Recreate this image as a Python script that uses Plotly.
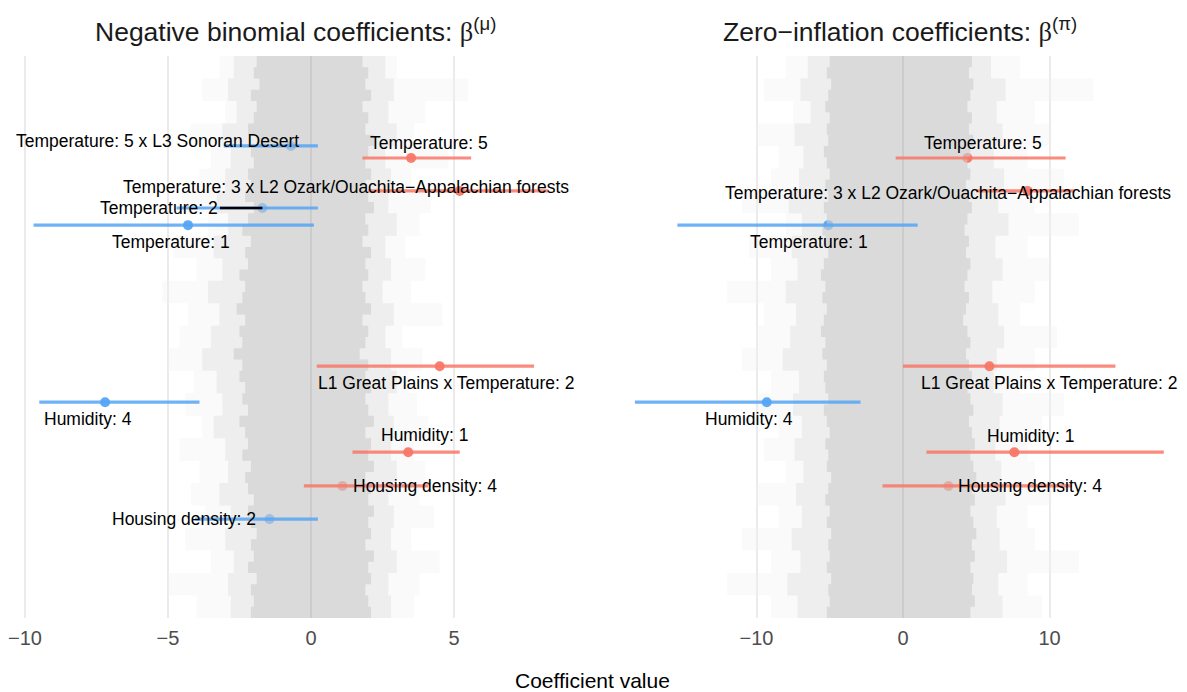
import plotly.graph_objects as go

# ---------------- data ----------------
# Highlighted coefficients, negative-binomial panel
nb_terms = ["Temperature: 5 x L3 Sonoran Desert", "Temperature: 5",
            "Temperature: 3 x L2 Ozark/Ouachita\u2212Appalachian forests",
            "Temperature: 2", "Temperature: 1", "L1 Great Plains x Temperature: 2",
            "Humidity: 4", "Humidity: 1", "Housing density: 4", "Housing density: 2"]
nb_row = [84.0, 81.85, 76.0, 72.95, 69.9, 44.8, 38.4, 29.5, 23.5, 17.6]
nb_est = [-0.7, 3.5, 5.2, -1.7, -4.3, 4.5, -7.2, 3.4, 1.1, -1.45]
nb_lo = [-3.05, 1.8, 2.0, -4.7, -9.7, 0.2, -9.5, 1.45, -0.25, -4.05]
nb_hi = [0.24, 5.6, 8.3, 0.24, 0.1, 7.8, -3.9, 5.2, 4.1, 0.24]

# Highlighted coefficients, zero-inflation panel
zi_terms = ["Temperature: 5",
            "Temperature: 3 x L2 Ozark/Ouachita\u2212Appalachian forests",
            "Temperature: 1", "L1 Great Plains x Temperature: 2",
            "Humidity: 4", "Humidity: 1", "Housing density: 4"]
zi_row = [81.85, 76.0, 69.9, 44.8, 38.4, 29.5, 23.5]
zi_est = [4.4, 8.5, -5.1, 5.9, -9.3, 7.6, 3.1]
zi_lo = [-0.5, 5.0, -15.4, 0.0, -18.3, 1.6, -1.4]
zi_hi = [11.1, 11.7, 1.0, 14.5, -2.9, 17.8, 11.5]

# Background cloud of all other coefficient intervals, by row band (top -> bottom)
fine_rows = [99, 97, 95, 93, 91, 89, 87, 85, 83, 81, 79, 77, 75, 73, 71, 69, 67, 65, 63, 61,
             59, 57, 55, 53, 51, 49, 47, 45, 43, 41, 39, 37, 35, 33, 31, 29, 27, 25, 23, 21,
             19, 17, 15, 13, 11, 9, 7, 5, 3, 1]
coarse_rows = [98, 94, 90, 86, 82, 78, 74, 70, 66, 62, 58, 54, 50, 46, 42, 38, 34, 30, 26, 22, 18, 14, 10, 6, 2]

nb_core_lo = [-1.9, -2.0, -1.8, -2.1, -1.9, -2.0, -2.2, -1.9, -2.1, -2.0,
              -2.2, -2.1, -2.3, -2.0, -2.2, -2.4, -2.1, -2.3, -2.2, -2.5,
              -2.3, -2.4, -2.6, -2.3, -2.5, -2.4, -2.7, -2.4, -2.5, -2.3,
              -2.4, -2.2, -2.5, -2.3, -2.2, -2.4, -2.1, -2.3, -2.2, -2.0,
              -2.2, -2.1, -1.9, -2.1, -2.0, -2.2, -1.9, -2.1, -2.0, -2.1]
nb_core_hi = [1.8, 2.0, 1.9, 2.1, 1.8, 2.0, 1.9, 2.2, 2.0, 1.9,
              2.1, 1.9, 2.0, 2.2, 1.9, 2.0, 1.8, 2.1, 1.9, 2.0,
              1.8, 1.9, 2.1, 1.8, 2.0, 1.9, 1.7, 2.0, 1.9, 2.1,
              1.9, 2.0, 2.2, 1.9, 2.1, 2.0, 2.2, 1.9, 2.1, 2.0,
              2.2, 2.0, 2.1, 1.9, 2.2, 2.0, 2.1, 1.9, 2.0, 2.1]
nb_mid_lo = [-2.7, -2.9, -2.6, -3.1, -2.8, -3.0, -3.3, -2.9, -3.4, -3.1, -3.6, -3.2, -3.5,
             -3.8, -3.3, -3.1, -3.4, -3.0, -2.9, -3.2, -2.8, -3.0, -2.7, -2.9, -2.8]
nb_mid_hi = [2.6, 2.9, 2.7, 3.0, 2.6, 2.8, 2.7, 3.0, 2.6, 2.8, 2.5, 2.9, 2.6,
             2.8, 3.0, 2.7, 2.9, 2.8, 3.0, 2.7, 2.9, 2.8, 3.0, 2.7, 2.8]
nb_out_lo = [-3.2, -3.8, -3.0, -4.2, -3.5, -3.9, -4.5, -3.6, -4.8, -4.0, -5.2, -4.3, -4.6,
             -5.0, -4.1, -4.4, -3.8, -4.6, -3.9, -4.2, -3.7, -4.4, -3.5, -5.0, -4.0]
nb_out_hi = [3.0, 5.5, 4.0, 3.6, 4.8, 3.5, 4.2, 3.8, 3.3, 4.0, 3.5, 4.6, 3.2,
             3.9, 3.4, 3.7, 4.1, 3.6, 4.0, 3.8, 4.3, 3.5, 4.5, 3.8, 3.6]

zi_core_lo = [-5.0, -5.2, -4.9, -5.1, -5.3, -5.0, -5.2, -5.1, -5.4, -5.2,
              -5.0, -5.3, -5.1, -5.4, -5.2, -5.5, -5.3, -5.1, -5.4, -5.6,
              -5.3, -5.5, -5.2, -5.4, -5.6, -5.3, -5.5, -5.2, -5.4, -5.3,
              -5.1, -5.4, -5.2, -5.0, -5.3, -5.1, -5.2, -4.9, -5.1, -5.3,
              -5.0, -5.2, -4.9, -5.1, -5.0, -5.2, -4.9, -5.1, -5.0, -5.2]
zi_core_hi = [4.7, 4.5, 4.8, 4.6, 4.4, 4.7, 4.5, 4.8, 4.6, 4.4,
              4.6, 4.3, 4.5, 4.7, 4.4, 4.2, 4.5, 4.3, 4.6, 4.4,
              4.2, 4.5, 4.3, 4.1, 4.4, 4.6, 4.3, 4.5, 4.7, 4.4,
              4.6, 4.8, 4.5, 4.7, 4.9, 4.6, 4.8, 5.0, 4.7, 4.9,
              4.6, 4.8, 5.0, 4.7, 4.9, 4.6, 4.8, 4.7, 4.9, 4.6]
zi_mid_lo = [-6.5, -7.0, -6.3, -7.4, -6.8, -7.1, -7.8, -6.9, -7.6, -7.2, -8.0, -7.3, -7.7,
             -8.2, -7.1, -7.5, -6.9, -7.4, -6.8, -7.3, -6.9, -7.6, -7.0, -7.9, -7.2]
zi_mid_hi = [6.0, 7.0, 6.4, 6.8, 6.2, 6.9, 6.5, 7.2, 6.3, 6.8, 6.1, 6.5, 6.9,
             6.4, 6.2, 6.8, 6.6, 6.3, 6.7, 7.0, 6.4, 6.6, 7.1, 6.5, 6.8]
zi_out_lo = [-8.0, -9.5, -7.5, -10.0, -8.5, -9.0, -11.0, -8.0, -10.5, -9.0, -12.0, -9.5, -10.0,
             -11.0, -9.0, -10.0, -8.5, -9.5, -8.0, -10.0, -8.5, -11.0, -9.0, -12.0, -9.0]
zi_out_hi = [8.0, 13.0, 9.0, 10.0, 8.5, 11.0, 9.0, 12.0, 8.5, 10.0, 9.0, 8.0, 10.5,
             9.0, 8.0, 11.0, 9.5, 8.5, 9.0, 10.0, 8.5, 9.0, 12.0, 8.5, 9.5]

nb_ticks = [-10, -5, 0, 5]
zi_ticks = [-10, 0, 10]

# ---------------- style ----------------
BLUE = "rgb(86,166,245)"
RED = "rgb(248,120,104)"
W, H = 1187, 692
FONT = "Liberation Sans, Arial, Helvetica"

# label offsets in pixels (dx right, dy down) relative to each estimate
nb_off = [(-133, -5), (18, -15), (-114, -4), (-103, 0), (-17, 17),
          (6, 17), (-17, 17), (17, -17), (83, 0), (-86, 0)]
zi_off = [(16, -15), (-80, 2), (-19, 17), (60, 17), (-18, 17), (17, -16), (82, 0)]

fig = go.Figure()


def stair_polygon(rows, lo, hi, half):
    xs, ys = [], []
    for r, a in zip(rows, lo):
        xs += [a, a]
        ys += [r + half, r - half]
    for r, b in zip(reversed(rows), reversed(hi)):
        xs += [b, b]
        ys += [r - half, r + half]
    xs.append(xs[0]); ys.append(ys[0])
    return xs, ys


def add_band(xa, ya, rows, lo, hi, half, color):
    xs, ys = stair_polygon(rows, lo, hi, half)
    fig.add_trace(go.Scatter(x=xs, y=ys, mode="lines", fill="toself",
                             fillcolor=color, line=dict(width=0),
                             hoverinfo="skip", showlegend=False, xaxis=xa, yaxis=ya))


OUT, MID, CORE = "rgba(240,240,240,0.35)", "rgba(228,228,228,0.55)", "rgba(205,205,205,0.62)"


def add_panel(xa, ya, out, mid, core, terms, prow, est, lo, hi, offs, arrow_idx):
    add_band(xa, ya, coarse_rows, out[0], out[1], 2, OUT)
    add_band(xa, ya, coarse_rows, mid[0], mid[1], 2, MID)
    cols = [BLUE if e < 0 else RED for e in est]
    # estimates sit underneath the dense cloud (they look faded inside it)
    for i, t in enumerate(terms):
        fig.add_trace(go.Scatter(x=[est[i]], y=[prow[i]], mode="markers",
                                 marker=dict(color=cols[i], size=10), opacity=0.95,
                                 name=t, showlegend=False, xaxis=xa, yaxis=ya))
    add_band(xa, ya, fine_rows, core[0], core[1], 1, CORE)
    fig.add_trace(go.Scatter(x=[0, 0], y=[0, 100], mode="lines",
                             line=dict(color="rgb(204,204,204)", width=2),
                             hoverinfo="skip", showlegend=False, xaxis=xa, yaxis=ya))
    for i, t in enumerate(terms):
        fig.add_trace(go.Scatter(x=[lo[i], hi[i]], y=[prow[i], prow[i]], mode="lines",
                                 line=dict(color=cols[i], width=3.2), opacity=0.85,
                                 hoverinfo="skip", showlegend=False, xaxis=xa, yaxis=ya))
        dx, dy = offs[i]
        ann = dict(x=est[i], y=prow[i], xref=xa, yref=ya,
                   text=t, font=dict(family=FONT, size=17.5, color="black"),
                   xanchor="center", yanchor="middle")
        if i == arrow_idx:
            ann.update(showarrow=True, ax=dx, ay=dy, arrowhead=0, arrowwidth=2.6,
                       arrowcolor="black", standoff=0)
        else:
            ann.update(showarrow=False, xshift=dx, yshift=-dy)
        fig.add_annotation(**ann)


add_panel("x", "y", (nb_out_lo, nb_out_hi), (nb_mid_lo, nb_mid_hi), (nb_core_lo, nb_core_hi),
          nb_terms, nb_row, nb_est, nb_lo, nb_hi, nb_off, 3)
add_panel("x2", "y2", (zi_out_lo, zi_out_hi), (zi_mid_lo, zi_mid_hi), (zi_core_lo, zi_core_hi),
          zi_terms, zi_row, zi_est, zi_lo, zi_hi, zi_off, -1)


def tick_text(v):
    return ("\u2212" + str(-v)) if v < 0 else str(v)


PLOT_TOP, PLOT_BOT = 56, 618
left_px, right_px = (8, 580), (612, 1180)
nb_zero, nb_scale = 311, 28.6
zi_zero, zi_scale = 903, 14.65

axis_common = dict(showgrid=True, gridcolor="rgb(235,235,235)", gridwidth=1.6,
                   zeroline=False, showline=False, ticks="",
                   tickfont=dict(family=FONT, size=20, color="rgb(77,77,77)"),
                   ticklabelstandoff=6)
fig.update_layout(
    width=W, height=H,
    margin=dict(l=0, r=0, t=PLOT_TOP, b=H - PLOT_BOT),
    paper_bgcolor="white", plot_bgcolor="white",
    xaxis=dict(domain=[left_px[0] / W, left_px[1] / W],
               range=[(left_px[0] - nb_zero) / nb_scale, (left_px[1] - nb_zero) / nb_scale],
               tickvals=nb_ticks, ticktext=[tick_text(v) for v in nb_ticks], anchor="y",
               **axis_common),
    xaxis2=dict(domain=[right_px[0] / W, right_px[1] / W],
                range=[(right_px[0] - zi_zero) / zi_scale, (right_px[1] - zi_zero) / zi_scale],
                tickvals=zi_ticks, ticktext=[tick_text(v) for v in zi_ticks], anchor="y2",
                **axis_common),
    yaxis=dict(range=[0, 100], visible=False, anchor="x"),
    yaxis2=dict(range=[0, 100], visible=False, anchor="x2"),
    showlegend=False,
)

plot_h = PLOT_BOT - PLOT_TOP
title_font = dict(family=FONT, size=26.5, color="rgb(26,26,26)")
beta = "<span style='font-family:Liberation Serif, Times New Roman, serif'>\u03b2</span>"
fig.add_annotation(xref="paper", yref="paper", x=295 / W, y=1 + (PLOT_TOP - 30) / plot_h,
                   text="Negative binomial coefficients: " + beta + "<sup>(\u03bc)</sup>",
                   showarrow=False, font=title_font, xanchor="center", yanchor="middle")
fig.add_annotation(xref="paper", yref="paper", x=900 / W, y=1 + (PLOT_TOP - 30) / plot_h,
                   text="Zero\u2212inflation coefficients: " + beta + "<sup>(\u03c0)</sup>",
                   showarrow=False, font=title_font, xanchor="center", yanchor="middle")
fig.add_annotation(xref="paper", yref="paper", x=592 / W, y=-(680 - PLOT_BOT) / plot_h,
                   text="Coefficient value", showarrow=False,
                   font=dict(family=FONT, size=21, color="black"),
                   xanchor="center", yanchor="middle")

fig.write_html("out.html", config={"displayModeBar": False},
               post_script="document.body.style.margin='0';")
